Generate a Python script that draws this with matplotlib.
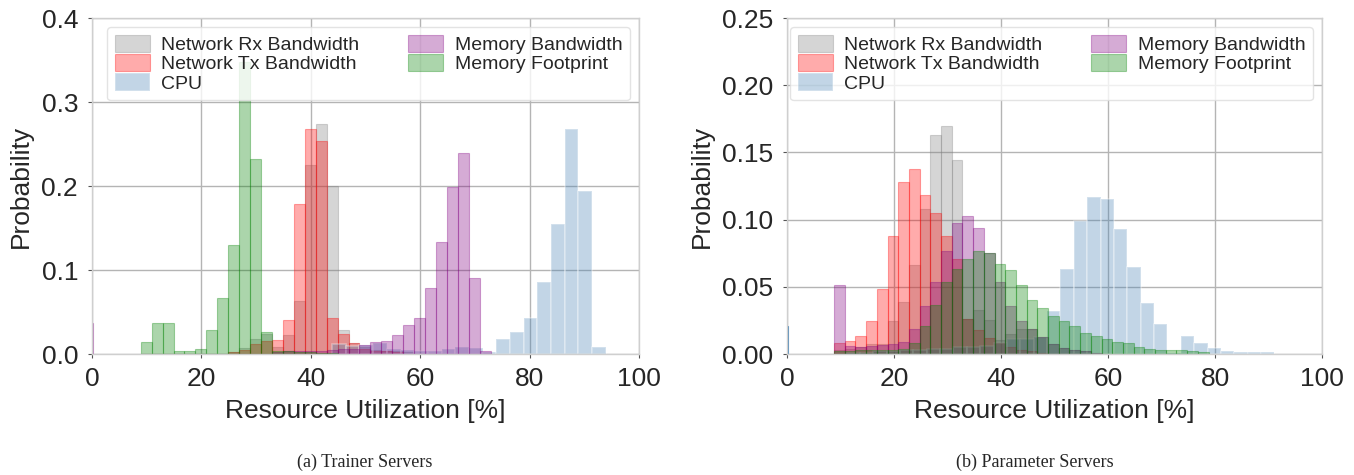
import numpy as np
import matplotlib
matplotlib.use("Agg")
import matplotlib.pyplot as plt

plt.style.use("seaborn-v0_8-whitegrid")
plt.rcParams["font.family"] = ["Liberation Sans", "DejaVu Sans"]

# ---- data -------------------------------------------------------------
# (a) trainer servers: shared 2 % bins starting at 8.9 %, CPU uses 2.5 % bins
trainer_bin_start = 8.9
trainer_bin_width = 2.0
trainer_rx = [0, 0, 0, 0, 0, 0, 0, 0, 0.002, 0.007, 0.0175, 0.024, 0.008, 0.0226,
              0.063, 0.225, 0.274, 0.200, 0.028, 0.0135, 0.008, 0.005, 0.004, 0.003, 0.002]
trainer_tx = [0, 0, 0, 0, 0, 0, 0, 0, 0.002, 0.005, 0.012, 0.016, 0.0165, 0.041,
              0.178, 0.268, 0.253, 0.043, 0.024, 0.013, 0.006, 0.004, 0.003, 0.002]
trainer_membw = [0, 0, 0, 0, 0, 0, 0, 0, 0, 0, 0, 0, 0.002, 0.003, 0.003, 0.003,
                 0.004, 0.005, 0.006, 0.006, 0.0103, 0.0147, 0.016, 0.023, 0.035, 0.043,
                 0.078, 0.133, 0.199, 0.239, 0.090, 0.004]
trainer_memfp = [0.014, 0.037, 0.037, 0.003, 0.003, 0.006, 0.028, 0.067, 0.130, 0.348,
                 0.232, 0.026, 0.004, 0.003, 0.002, 0.002, 0.001, 0.001]
trainer_cpu_start = 43.9
trainer_cpu_width = 2.5
trainer_cpu = [0.012, 0.010, 0.011, 0.013, 0.006, 0.005, 0.004, 0.004, 0.006, 0.008,
               0.007, 0.002, 0.018, 0.026, 0.043, 0.086, 0.155, 0.268, 0.194, 0.008]
trainer_zero_membw = 0.037

# (b) parameter servers: shared 2 % bins starting at 8.8 %, CPU uses 2.5 % bins
param_bin_start = 8.8
param_bin_width = 2.0
param_rx = [0.003, 0.004, 0.005, 0.0076, 0.0076, 0.0243, 0.039, 0.066, 0.1076, 0.1626,
            0.170, 0.1444, 0.026, 0.0325, 0.025, 0.0106, 0.0146, 0.0188, 0.0188, 0.0125,
            0.0071, 0.0046, 0.003, 0.002]
param_tx = [0.0085, 0.0096, 0.0133, 0.0245, 0.0487, 0.088, 0.128, 0.138, 0.118, 0.105,
            0.088, 0.071, 0.026, 0.018, 0.012, 0.008, 0.005, 0.003, 0.002, 0.001]
param_membw = [0.0516, 0.006, 0.005, 0.006, 0.007, 0.0076, 0.0086, 0.0183, 0.0354, 0.0536,
               0.0767, 0.0976, 0.1028, 0.094, 0.075, 0.0536, 0.0354, 0.0245, 0.0188, 0.0125,
               0.0071, 0.0046, 0.003, 0.002, 0.001]
param_memfp = [0.002, 0.002, 0.003, 0.003, 0.003, 0.003, 0.004, 0.008, 0.0205, 0.0367,
               0.0536, 0.0636, 0.071, 0.0767, 0.0755, 0.0673, 0.0623, 0.0511, 0.0402, 0.0342,
               0.0282, 0.0245, 0.0208, 0.0158, 0.0133, 0.0108, 0.0093, 0.0081, 0.0051, 0.0039,
               0.0033, 0.0033, 0.003, 0.0025, 0.0012]
param_cpu_start = 11.1
param_cpu_width = 2.5
param_cpu = [0.001, 0.001, 0.002, 0.002, 0.003, 0.003, 0.004, 0.004, 0.005, 0.005,
             0.006, 0.008, 0.011, 0.011, 0.013, 0.032, 0.0636, 0.0989, 0.117, 0.115,
             0.0927, 0.0648, 0.038, 0.022, 0.001, 0.0133, 0.0083, 0.0046, 0.0026, 0.0014,
             0.0014, 0.0014]
param_zero_cpu = 0.0205

labels = ["Network Rx Bandwidth", "Network Tx Bandwidth", "CPU",
          "Memory Bandwidth", "Memory Footprint"]
colors = ["gray", "red", "steelblue", "purple", "green"]
ALPHA = 0.33


def edges(start, width, n):
    return start + width * np.arange(n + 1)


def draw_hist(ax, start, width, heights, color, label, gap=False):
    e = edges(start, width, len(heights))
    ax.hist(e[:-1], bins=e, weights=heights, color=color, alpha=ALPHA,
            edgecolor="white" if gap else color, linewidth=1.2 if gap else 0.8,
            label=label)


def panel(ax, start, width, rx, tx, membw, memfp, cpu_start, cpu_width, cpu,
          ylim, yticks, yfmt):
    draw_hist(ax, start, width, rx, colors[0], labels[0])
    draw_hist(ax, start, width, tx, colors[1], labels[1])
    draw_hist(ax, cpu_start, cpu_width, cpu, colors[2], labels[2], gap=True)
    draw_hist(ax, start, width, membw, colors[3], labels[3])
    draw_hist(ax, start, width, memfp, colors[4], labels[4])
    ax.set_xlim(0, 100)
    ax.set_ylim(*ylim)
    ax.set_xticks([0, 20, 40, 60, 80, 100])
    ax.set_yticks(yticks)
    ax.set_yticklabels([yfmt.format(v) for v in yticks])
    ax.grid(True, color="#b4b4b4", linewidth=1.0)
    for s in ax.spines.values():
        s.set_visible(True)
        s.set_color("#cfcfcf")
        s.set_linewidth(1.0)
    ax.tick_params(axis="both", labelsize=19, length=3, width=0.8,
                   color="#555555", labelcolor="#262626")
    ax.tick_params(axis="y", pad=7)
    ax.tick_params(axis="x", pad=6)
    ax.set_xlabel("Resource Utilization [%]", fontsize=19, color="#262626", labelpad=6)
    ax.set_ylabel("Probability", fontsize=19, color="#262626", labelpad=6)
    leg = ax.legend(loc="upper right", ncol=2, fontsize=14, frameon=True,
                    framealpha=0.8, fancybox=True, labelspacing=0.0,
                    handlelength=1.8, handleheight=1.0, columnspacing=2.5,
                    borderpad=0.4, handletextpad=0.6, borderaxespad=0.45)
    leg.get_frame().set_edgecolor("#dddddd")
    for t in leg.get_texts():
        t.set_color("#262626")


fig = plt.figure(figsize=(13.54, 4.75), dpi=100)
ax1 = fig.add_axes([92 / 1354, 121 / 475, 547 / 1354, 336 / 475])
ax2 = fig.add_axes([787 / 1354, 121 / 475, 535 / 1354, 336 / 475])

panel(ax1, trainer_bin_start, trainer_bin_width, trainer_rx, trainer_tx,
      trainer_membw, trainer_memfp, trainer_cpu_start, trainer_cpu_width,
      trainer_cpu, (0, 0.4), [0.0, 0.1, 0.2, 0.3, 0.4], "{:.1f}")
ax1.bar([0], [trainer_zero_membw], width=0.4, color=colors[3], alpha=ALPHA,
        edgecolor=colors[3], linewidth=0.8)

panel(ax2, param_bin_start, param_bin_width, param_rx, param_tx,
      param_membw, param_memfp, param_cpu_start, param_cpu_width,
      param_cpu, (0, 0.25), [0.0, 0.05, 0.10, 0.15, 0.20, 0.25], "{:.2f}")
ax2.bar([0], [param_zero_cpu], width=0.4, color=colors[2], alpha=0.8,
        edgecolor=colors[2], linewidth=0.8)

fig.text(365 / 1354, 1 - 462 / 475, "(a) Trainer Servers", ha="center", va="center",
         fontsize=13, family=["Liberation Serif", "DejaVu Serif"])
fig.text(1035 / 1354, 1 - 462 / 475, "(b) Parameter Servers", ha="center", va="center",
         fontsize=13, family=["Liberation Serif", "DejaVu Serif"])

fig.savefig("out.png", dpi=100)
